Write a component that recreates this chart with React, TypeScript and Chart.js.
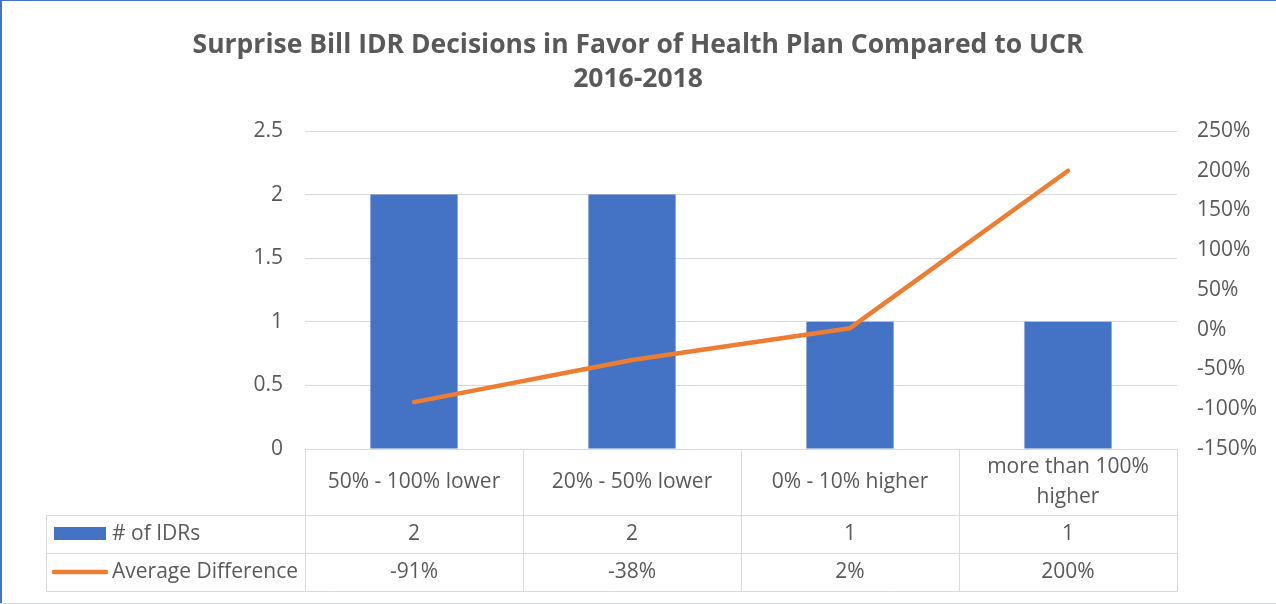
import React, { useEffect, useRef } from "react";
import { Chart, registerables } from "chart.js";

Chart.register(...registerables);

const titleLines = [
  "Surprise Bill IDR Decisions in Favor of Health Plan Compared to UCR",
  "2016-2018",
];
const categories: string[][] = [
  ["50% - 100% lower"],
  ["20% - 50% lower"],
  ["0% - 10% higher"],
  ["more than 100%", "higher"],
];
const seriesNames = ["# of IDRs", "Average Difference"];
const idrCounts = [2, 2, 1, 1];
const avgDifference = [-0.91, -0.38, 0.02, 2.0];

const FONT = "'Open Sans', 'Liberation Sans', sans-serif";
const TEXT = "#595959";
const GRID = "#D9D9D9";
const BLUE = "#4472C4";
const ORANGE = "#ED7D31";
const FS = 21;

const pct = (v: number) => `${Math.round(v * 100)}%`;

const frameAndTable = {
  id: "frameAndTable",
  beforeDraw(chart: any) {
    const { ctx, width, height } = chart;
    ctx.save();
    ctx.fillStyle = "#ffffff";
    ctx.fillRect(0, 0, width, height);
    ctx.restore();
  },
  afterDraw(chart: any) {
    const { ctx, chartArea, scales, width } = chart;
    const xs = scales.x;
    const left = chartArea.left;
    const right = chartArea.right;
    const top = chartArea.bottom;
    const r0 = top + 66;
    const r1 = r0 + 38;
    const r2 = r1 + 38;
    const legendLeft = 46;
    const n = categories.length;
    const step = (right - left) / n;

    ctx.save();
    ctx.strokeStyle = GRID;
    ctx.lineWidth = 1;
    const h = (y: number, x0: number, x1: number) => {
      ctx.beginPath();
      ctx.moveTo(x0, Math.round(y) + 0.5);
      ctx.lineTo(x1, Math.round(y) + 0.5);
      ctx.stroke();
    };
    const v = (x: number, y0: number, y1: number) => {
      ctx.beginPath();
      ctx.moveTo(Math.round(x) + 0.5, y0);
      ctx.lineTo(Math.round(x) + 0.5, y1);
      ctx.stroke();
    };
    h(r0, legendLeft, right);
    h(r1, legendLeft, right);
    h(r2, legendLeft, right);
    v(legendLeft, r0, r2 + 0.5);
    for (let i = 0; i <= n; i++) v(left + i * step, top, r2 + 0.5);

    // legend keys
    ctx.fillStyle = BLUE;
    ctx.fillRect(54, (r0 + r1) / 2 - 7, 52, 13);
    ctx.strokeStyle = ORANGE;
    ctx.lineWidth = 4.5;
    ctx.lineCap = "round";
    ctx.beginPath();
    ctx.moveTo(54, (r1 + r2) / 2);
    ctx.lineTo(106, (r1 + r2) / 2);
    ctx.stroke();

    ctx.fillStyle = TEXT;
    ctx.font = `${FS}px ${FONT}`;
    ctx.textBaseline = "middle";
    ctx.textAlign = "left";
    ctx.fillText(seriesNames[0], 112, (r0 + r1) / 2);
    ctx.fillText(seriesNames[1], 112, (r1 + r2) / 2);
    ctx.textAlign = "center";
    for (let i = 0; i < n; i++) {
      const cx = xs.getPixelForValue(i);
      ctx.fillText(String(idrCounts[i]), cx, (r0 + r1) / 2);
      ctx.fillText(pct(avgDifference[i]), cx, (r1 + r2) / 2);
    }

    // outer frame
    ctx.fillStyle = BLUE;
    ctx.fillRect(0, 0, 2, chart.height);
    ctx.fillRect(0, 0, width, 1);
    ctx.fillStyle = "#D6DCE5";
    ctx.fillRect(0, chart.height - 1, width, 1);
    ctx.restore();
  },
};

export default function App() {
  const ref = useRef<HTMLCanvasElement | null>(null);

  useEffect(() => {
    document.body.style.margin = "0";
    if (!ref.current) return;
    const chart = new Chart(ref.current, {
      type: "bar",
      data: {
        labels: categories,
        datasets: [
          {
            type: "line",
            label: seriesNames[1],
            data: avgDifference,
            yAxisID: "y1",
            borderColor: ORANGE,
            backgroundColor: ORANGE,
            borderWidth: 4.5,
            borderCapStyle: "round",
            borderJoinStyle: "round",
            pointRadius: 0,
            tension: 0,
            order: 0,
          } as any,
          {
            type: "bar",
            label: seriesNames[0],
            data: idrCounts,
            yAxisID: "y",
            backgroundColor: BLUE,
            categoryPercentage: 1,
            barPercentage: 0.4,
            order: 1,
          },
        ],
      },
      options: {
        responsive: false,
        animation: false,
        layout: { padding: 0 },
        plugins: {
          legend: { display: false },
          tooltip: { enabled: false },
          title: {
            display: true,
            text: titleLines,
            color: TEXT,
            font: { family: FONT, weight: "bold", size: 26.5, lineHeight: 34 / 26.5 },
            padding: { top: 28.5, bottom: 34.5 },
          },
        },
        scales: {
          x: {
            offset: true,
            grid: { display: false, drawTicks: false },
            border: { display: false },
            ticks: {
              color: TEXT,
              font: { family: FONT, size: FS, lineHeight: 30 / FS },
              padding: 18,
              crossAlign: "center",
              maxRotation: 0,
              minRotation: 0,
              autoSkip: false,
            },
            afterFit: (s: any) => {
              s.height = 155;
            },
          },
          y: {
            position: "left",
            min: 0,
            max: 2.5,
            grid: { color: GRID, lineWidth: 1, drawTicks: false },
            border: { display: false },
            ticks: {
              stepSize: 0.5,
              color: TEXT,
              font: { family: FONT, size: FS },
              padding: 22,
              callback: (v: any) => String(v),
            },
            afterFit: (s: any) => {
              s.width = 305;
            },
          },
          y1: {
            position: "right",
            min: -1.5,
            max: 2.5,
            grid: { drawOnChartArea: false, drawTicks: false },
            border: { display: false },
            ticks: {
              stepSize: 0.5,
              color: TEXT,
              font: { family: FONT, size: FS },
              padding: 20,
              callback: (v: any) => pct(Number(v)),
            },
            afterFit: (s: any) => {
              s.width = 99;
            },
          },
        },
      },
      plugins: [frameAndTable],
    });
    return () => chart.destroy();
  }, []);

  return (
    <div style={{ width: 1276, height: 604 }}>
      <canvas ref={ref} width={1276} height={604} style={{ display: "block" }} />
    </div>
  );
}
